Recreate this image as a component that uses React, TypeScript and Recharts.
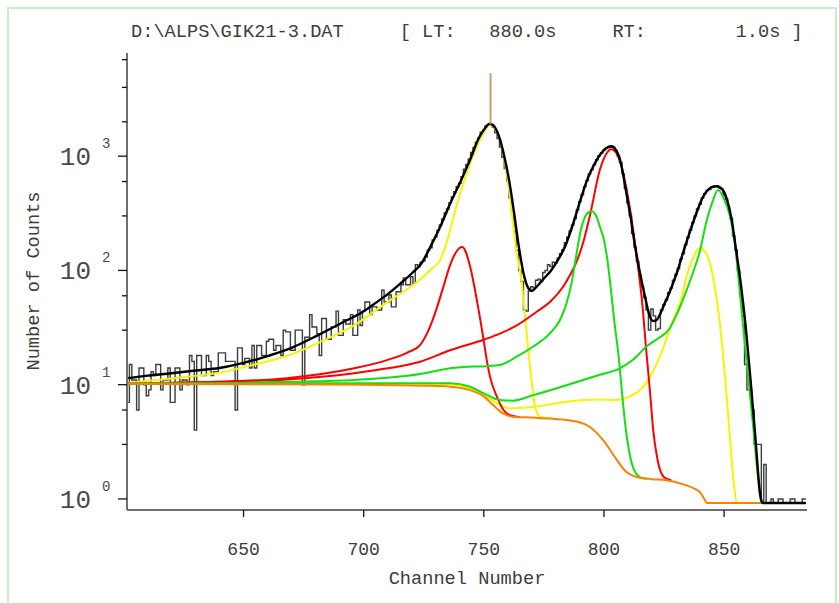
import { Line, LineChart, XAxis, YAxis } from "recharts";

const FONT = "'Liberation Mono', 'Courier New', monospace";

const TITLE = "D:\\ALPS\\GIK21-3.DAT     [ LT:   880.0s     RT:        1.0s ]";
const X_LABEL = "Channel Number";
const Y_LABEL = "Number of Counts";

const X_TICKS = [650, 700, 750, 800, 850];
const Y_MAJOR = [1, 10, 100, 1000];
const Y_TICKS = [
  0.8, 0.9, 1, 2, 3, 4, 5, 6, 7, 8, 9, 10, 20, 30, 40, 50, 60, 70, 80, 90, 100,
  200, 300, 400, 500, 600, 700, 800, 900, 1000, 2000, 3000, 4000, 5000, 6000,
  7000,
];

// measured spectrum, one count per channel starting at 602 (0 = empty channel)
const HIST_FIRST_CH = 602;
const HIST_COUNTS = [
  7, 15, 11, 11, 6, 14, 14, 10, 8, 9,
  13, 12, 15, 15, 9, 11, 11, 14, 7, 7,
  14, 14, 9, 11, 11, 10, 18, 16, 4, 18,
  18, 12, 12, 18, 16, 12, 13, 13, 19, 19,
  19, 16, 16, 16, 16, 6, 21, 21, 15, 17,
  17, 14, 22, 14, 22, 22, 18, 18, 24, 25,
  25, 20, 22, 22, 18, 30, 29, 29, 20, 20,
  30, 30, 30, 10, 26, 26, 41, 32, 32, 28,
  18, 38, 38, 25, 25, 32, 32, 44, 27, 27,
  37, 34, 34, 41, 27, 27, 45, 33, 44, 53,
  53, 41, 48, 48, 45, 45, 67, 53, 53, 61,
  48, 48, 65, 65, 75, 86, 75, 75, 88, 77,
  112, 108, 118, 121, 131, 150, 158, 185, 196, 225,
  250, 282, 318, 345, 392, 440, 488, 540, 580, 660,
  770, 845, 940, 1080, 1190, 1320, 1440, 1620, 1690, 1840,
  1880, 1900, 1790, 1600, 1430, 1200, 980, 780, 610, 430,
  330, 220, 150, 100, 80, 45, 44, 66, 72, 70,
  82, 84, 80, 96, 100, 112, 108, 118, 116, 128,
  140, 152, 175, 195, 222, 250, 285, 340, 400, 460,
  540, 610, 700, 760, 840, 930, 1010, 1060, 1130, 1170,
  1190, 1200, 1190, 1120, 1010, 880, 700, 520, 390, 300,
  210, 160, 120, 90, 72, 58, 45, 30, 46, 40,
  30, 31, 45, 50, 55, 64, 70, 82, 92, 104,
  125, 140, 168, 195, 225, 262, 300, 345, 380, 430,
  470, 500, 510, 540, 545, 552, 530, 515, 460, 420,
  340, 285, 200, 150, 100, 60, 40, 15, 9, 9,
  6, 3, 3, 3, 0, 2, 0, 0, 1, 0,
  0, 1, 1, 0, 0, 0, 1, 1, 0, 0,
  0, 1, 1,
];
const EMPTY_LEVEL = 0.92; // where empty channels sit on the log axis

// total fit (black)
const FIT_CH = [
  602, 610, 620, 630, 640, 650, 660, 670, 680, 690, 700, 705, 710, 715, 720,
  724, 728, 732, 736, 740, 744, 748, 750, 752.5, 754.5, 756.5, 758.5, 760.5,
  762.5, 764.5, 766.5, 768.5, 770, 772, 775, 778, 781, 784, 787, 790, 793, 796,
  799, 801, 803, 805, 807, 809, 811, 813, 815, 817, 819, 820.5, 822, 823.5, 825,
  827, 829, 831, 833, 835, 837, 839, 841, 843, 845, 847, 849, 851, 853, 855,
  857, 859, 861, 863, 865, 866, 884,
];
const FIT_CT = [
  11.4, 12, 12.6, 13.3, 14, 15.5, 17.8, 21, 26.5, 34, 44, 52, 62, 76, 94, 115,
  165, 245, 385, 580, 900, 1450, 1700, 1920, 1800, 1450, 1000, 620, 330, 165,
  95, 70, 66, 72, 85, 100, 125, 165, 250, 400, 620, 850, 1070, 1180, 1220,
  1130, 880, 520, 300, 160, 95, 60, 40, 36, 37, 42, 50, 62, 80, 105, 145, 195,
  260, 340, 430, 500, 535, 545, 520, 430, 290, 150, 75, 32, 11, 3.5, 1.1, 0.92,
  0.92,
];

// step background (orange)
const ORANGE_CH = [
  602, 650, 700, 725, 736, 744, 750, 754, 758, 762, 770, 778, 789, 794, 800,
  805, 809, 814, 820, 826, 834, 838, 840, 841.5, 843, 884,
];
const ORANGE_CT = [
  10.2, 10.1, 10, 9.8, 9.6, 9.0, 7.9, 6.6, 5.6, 5.25, 5.15, 5.05, 4.74, 4.28,
  3.2, 2.25, 1.75, 1.55, 1.49, 1.46, 1.32, 1.22, 1.14, 1.02, 0.92, 0.92,
];

// peak components (each drawn on top of the background)
const YELLOW_A_CH = [
  602, 626, 640, 654, 668, 682, 696, 710, 717, 724, 728, 732, 735, 737.5, 740,
  743, 745.5, 748, 750, 752.5, 754.5, 756.5, 758.5, 761, 763.5, 765.8, 767.2,
  768.5, 770, 771.3, 773.4, 778,
];
const YELLOW_A_CT = [
  10.4, 11.7, 12.7, 14.9, 17.8, 23.7, 33, 53, 66, 85, 102, 125, 190, 300, 460,
  720, 1000, 1330, 1600, 1880, 1750, 1450, 950, 420, 150, 77, 39, 20, 10.3, 6.4,
  5.25, 5.07,
];

const YELLOW_B_CH = [
  602, 680, 723.5, 736, 744.3, 749.9, 755.4, 760.9, 770.6, 784.4, 798.3, 805.3,
  810.8, 816, 821, 825, 828.8, 832, 834.3, 836.5, 838.5, 840.2, 842.9, 845.6,
  848.4, 851.2, 853.9, 855.3, 858,
];
const YELLOW_B_CT = [
  10.2, 10.2, 10.2, 10.1, 9.3, 8.1, 6.9, 6.2, 6.4, 7.1, 7.4, 7.35, 7.9, 9.4,
  13.8, 22, 36.7, 55, 88, 120, 148, 157, 136, 83, 32, 7.35, 1.46, 0.92, 0.92,
];

const RED_A_CH = [
  602, 640, 668, 696, 710, 718, 723.5, 727, 730, 733, 736, 738.5, 741, 742.5,
  744.3, 747.1, 749.9, 751.2, 752.6, 755.4, 758.2, 760.9, 765,
];
const RED_A_CT = [
  10.2, 10.6, 11.4, 13.9, 16.5, 19, 22.3, 30, 44, 70, 112, 145, 160, 145, 108,
  55, 24.7, 16.5, 11.7, 7.9, 6.0, 5.4, 5.2,
];

const RED_B_CH = [
  602, 640, 668, 696, 710, 723.5, 736, 750.5, 756.7, 763.7, 772, 777.5, 783,
  786, 789, 791.5, 794.4, 798.3, 801, 803, 805, 807, 809.5, 811, 813, 814.5,
  816, 817.5, 819.2, 820.5, 822.3, 825, 828,
];
const RED_B_CT = [
  10.2, 10.6, 11.1, 12.6, 13.9, 15.9, 20, 25, 28, 33, 43.5, 53, 72, 92, 125,
  180, 320, 760, 1050, 1150, 1080, 850, 500, 330, 165, 95, 50, 21, 8.5, 4.0,
  2.2, 1.55, 1.46,
];

const GREEN_A_CH = [
  602, 640, 668, 696, 723.5, 736, 756.7, 763.7, 770.6, 777.5, 781.7, 784.4,
  786.5, 788, 790.7, 793, 794.8, 796.9, 798.3, 800, 801.5, 803, 804.3, 806,
  807.3, 808.7, 810.5, 812.5, 815.5, 818,
];
const GREEN_A_CT = [
  10.2, 10.3, 10.6, 11, 12.4, 13.9, 14.9, 17.6, 21.6, 28.1, 36.8, 51.5, 77, 118,
  241, 315, 332, 295, 241, 185, 120, 65, 36, 18.5, 9.5, 4.8, 2.6, 1.8, 1.53,
  1.5,
];

const GREEN_B_CH = [
  602, 680, 723.5, 736, 744.3, 750, 756.7, 762.2, 770.6, 784.4, 798.3, 806.6,
  812.1, 817.7, 822, 827.3, 830, 834, 837, 840, 842.5, 845, 847.5, 850, 852.5,
  854.5, 856.6, 859.3, 862.1, 864.1, 865.5, 884,
];
const GREEN_B_CT = [
  10.2, 10.3, 10.3, 10.3, 9.6, 8.4, 7.35, 7.25, 8.1, 9.9, 12.2, 13.9, 16.5,
  21.6, 25, 31, 40, 64, 95, 150, 260, 390, 506, 420, 296, 170, 63, 16.4, 4.3,
  1.56, 0.92, 0.92,
];

// peak marker above the main line
const MARKER_CH = [752.8, 752.8];
const MARKER_CT = [5330, 1900];

const pts = (xs: number[], ys: number[]) =>
  xs.map((ch, i) => ({ ch, v: ys[i] }));

const histData = HIST_COUNTS.map((c, i) => ({
  ch: HIST_FIRST_CH + i,
  v: c > 0 ? c : EMPTY_LEVEL,
}));

const AXIS = "#6e6e6e";
const TEXT = "#3c3c3c";

function LeftTick({ x, y, payload }: any) {
  const major = Y_MAJOR.includes(payload.value);
  const exp = Math.round(Math.log10(payload.value));
  return (
    <g>
      <line x1={x} x2={x - (major ? 9 : 5)} y1={y} y2={y} stroke="#111" strokeWidth={1.3} />
      {major && (
        <text x={x - 36} y={y + 9} textAnchor="end" fontFamily={FONT} fontSize={26} fill="#4a4a4a">
          10
        </text>
      )}
      {major && (
        <text x={x - 25} y={y - 8} fontFamily={FONT} fontSize={14} fill="#4a4a4a">
          {exp}
        </text>
      )}
    </g>
  );
}

function RightTick({ x, y, payload }: any) {
  const major = Y_MAJOR.includes(payload.value);
  return <line x1={x} x2={x - (major ? 8 : 4)} y1={y} y2={y} stroke="#111" strokeWidth={1.3} />;
}

function BottomTick({ x, y, payload }: any) {
  return (
    <text x={x} y={y + 38} textAnchor="middle" fontFamily={FONT} fontSize={18} fill={TEXT}>
      {payload.value}
    </text>
  );
}

export default function App() {
  const curve = (
    key: string,
    data: { ch: number; v: number }[],
    color: string,
    width: number,
    type: "monotone" | "step" | "linear" = "monotone",
  ) => (
    <Line
      key={key}
      data={data}
      dataKey="v"
      type={type}
      stroke={color}
      strokeWidth={width}
      dot={false}
      activeDot={false}
      isAnimationActive={false}
    />
  );

  return (
    <div style={{ position: "absolute", left: 0, top: 0, width: 839, height: 603, background: "#fff" }}>
      <LineChart width={839} height={603} margin={{ top: 53, right: 32, bottom: 0, left: 0 }}>
        <XAxis
          dataKey="ch"
          type="number"
          domain={[601.5, 884.5]}
          allowDataOverflow
          ticks={X_TICKS}
          height={93}
          tickSize={7}
          tickMargin={0}
          stroke={AXIS}
          strokeWidth={2}
          tickLine={{ stroke: "#111", strokeWidth: 1.3 }}
          tick={<BottomTick />}
        />
        <XAxis
          xAxisId="top"
          orientation="top"
          dataKey="ch"
          type="number"
          domain={[601.5, 884.5]}
          allowDataOverflow
          ticks={X_TICKS}
          height={0}
          mirror
          tickSize={5}
          stroke={AXIS}
          strokeWidth={2}
          tickLine={{ stroke: "#111", strokeWidth: 1.3 }}
          tick={false}
        />
        <YAxis
          scale="log"
          type="number"
          domain={[0.8, 8000]}
          allowDataOverflow
          ticks={Y_TICKS}
          width={127}
          tickSize={0}
          tickMargin={0}
          tickLine={false}
          stroke={AXIS}
          strokeWidth={2}
          tick={<LeftTick />}
        />
        <YAxis
          yAxisId="r"
          orientation="right"
          scale="log"
          type="number"
          domain={[0.8, 8000]}
          allowDataOverflow
          ticks={Y_TICKS}
          width={0}
          tickSize={0}
          tickMargin={0}
          tickLine={false}
          stroke={AXIS}
          strokeWidth={2}
          tick={<RightTick />}
        />
        {curve("hist", histData, "#3d3d3d", 1.4, "step")}
        {curve("yA", pts(YELLOW_A_CH, YELLOW_A_CT), "#f5f500", 2)}
        {curve("yB", pts(YELLOW_B_CH, YELLOW_B_CT), "#f5f500", 2)}
        {curve("rA", pts(RED_A_CH, RED_A_CT), "#ff0000", 2)}
        {curve("rB", pts(RED_B_CH, RED_B_CT), "#ff0000", 2)}
        {curve("gA", pts(GREEN_A_CH, GREEN_A_CT), "#11e011", 2)}
        {curve("gB", pts(GREEN_B_CH, GREEN_B_CT), "#11e011", 2)}
        {curve("bg", pts(ORANGE_CH, ORANGE_CT), "#ff8000", 2)}
        {curve("fit", pts(FIT_CH, FIT_CT), "#000000", 2.4)}
        {curve("mark", pts(MARKER_CH, MARKER_CT), "#c8a06e", 2, "linear")}
      </LineChart>
      <svg
        width={839}
        height={603}
        style={{ position: "absolute", left: 0, top: 0, pointerEvents: "none" }}
      >
        <polyline points="8,603 8,8 836,8 836,603" fill="none" stroke="#c6efc6" strokeWidth={2} />
        <text x={131} y={36.5} fontFamily={FONT} fontSize={18.67} fill={TEXT} style={{ whiteSpace: "pre" }}>
          {TITLE}
        </text>
        <text x={467} y={584} textAnchor="middle" fontFamily={FONT} fontSize={18.67} fill={TEXT}>
          {X_LABEL}
        </text>
        <text
          transform="translate(38.5, 281) rotate(-90)"
          textAnchor="middle"
          fontFamily={FONT}
          fontSize={18.67}
          fill={TEXT}
        >
          {Y_LABEL}
        </text>
      </svg>
    </div>
  );
}
